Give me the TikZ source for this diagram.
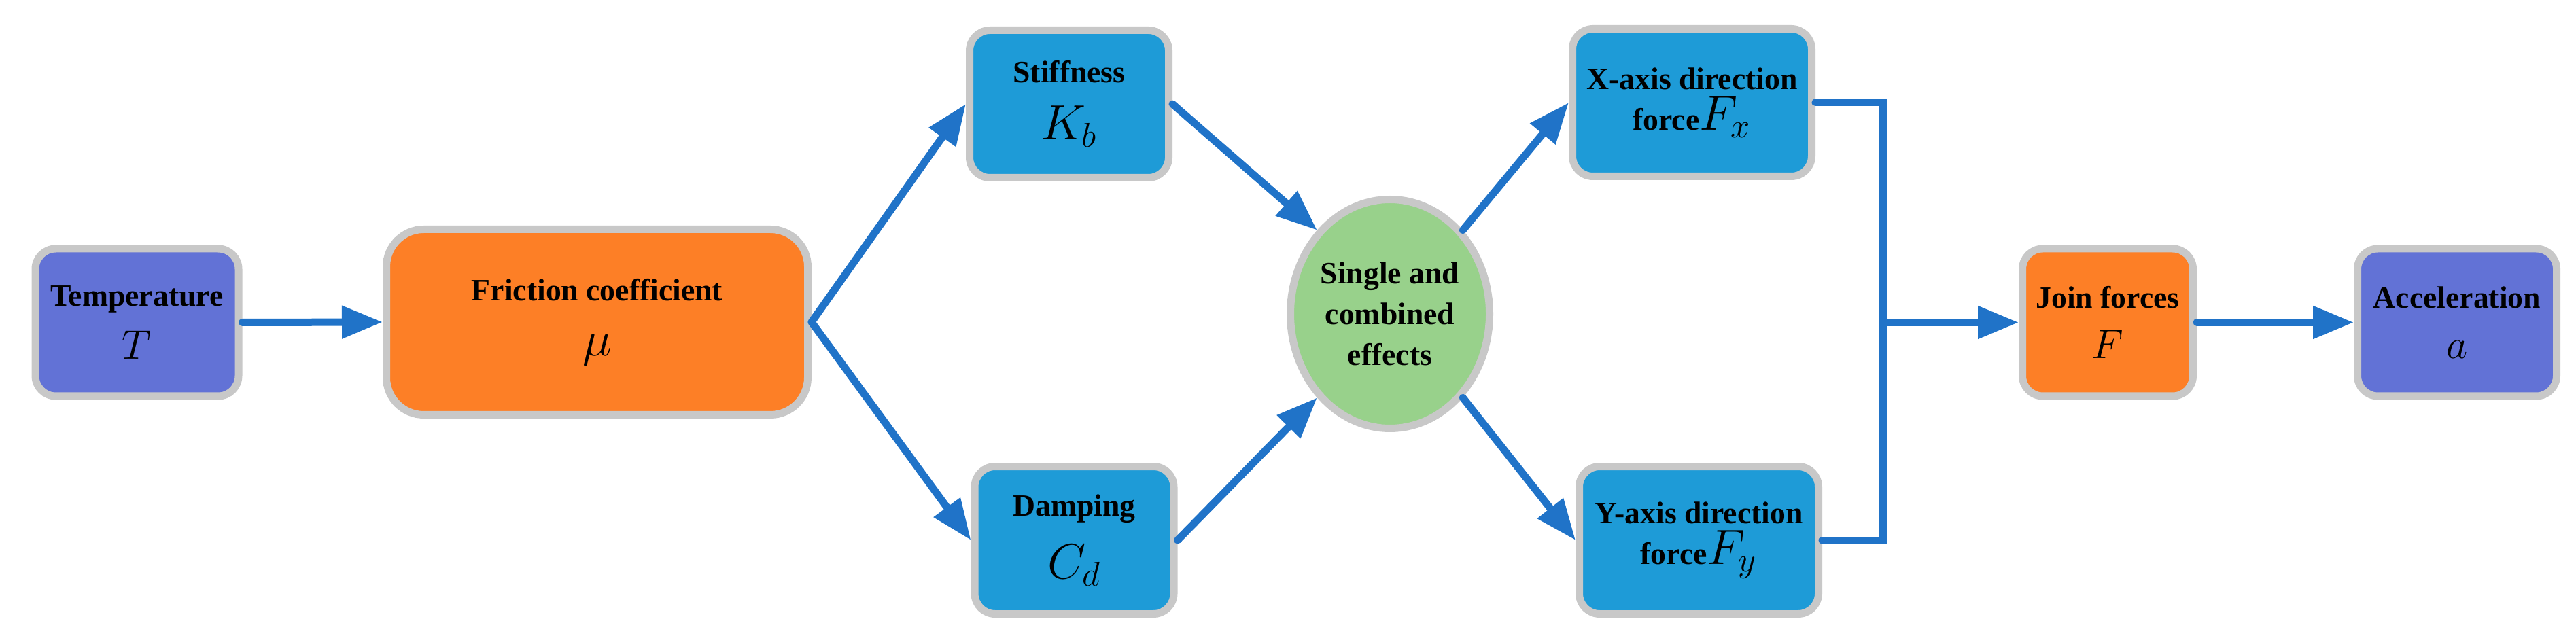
\documentclass[tikz,border=0pt]{standalone}
\usepackage{fontspec}
\setmainfont{Liberation Serif}
\usetikzlibrary{arrows.meta,shapes.geometric}

\definecolor{tempblue}{RGB}{98,114,214}
\definecolor{fricorange}{RGB}{253,127,38}
\definecolor{parmblue}{RGB}{30,155,215}
\definecolor{effgreen}{RGB}{152,209,139}
\definecolor{rimgray}{RGB}{200,200,200}
\definecolor{linkblue}{RGB}{32,115,200}

\newcommand{\bigmath}[2][18]{{\fontsize{#1}{#1}\selectfont$#2$}}

\begin{document}
\begin{tikzpicture}
	[box/.style={rectangle, rounded corners=0.3cm, draw=rimgray, line width=0.11cm,
		align=center, inner sep=1pt, minimum height=2.17cm,
		font=\bfseries\fontsize{13}{17}\selectfont},
	flow/.style={draw=linkblue, line width=0.11cm, line cap=round,
		-{Triangle[length=0.6cm,width=0.46cm]}},
	link/.style={draw=linkblue, line width=0.11cm, line cap=round}]
	\useasboundingbox (0,0) rectangle (37.90,9.35);

	% input and friction
	\node[box, fill=tempblue, minimum width=2.99cm] (temp) at (2.015,4.605)
		{Temperature\\[5pt]\bigmath{T}};
	\node[box, fill=fricorange, rounded corners=0.55cm, minimum width=6.20cm,
		minimum height=2.73cm] (fric) at (8.785,4.61)
		{Friction coefficient\\[6pt]\bigmath[22]{\mu}};

	% stiffness and damping
	\node[box, fill=parmblue, minimum width=2.93cm] (stiff) at (15.73,7.82)
		{Stiffness\\[7pt]\bigmath[21]{K_b}};
	\node[box, fill=parmblue, minimum width=2.93cm] (damp) at (15.805,1.40)
		{Damping\\[8pt]\bigmath[21]{C_d}};

	% effects
	\node[ellipse, draw=rimgray, line width=0.11cm, fill=effgreen,
		minimum width=2.93cm, minimum height=3.37cm, inner sep=0pt, align=center,
		font=\bfseries\fontsize{13}{17}\selectfont] (eff) at (20.45,4.73)
		{Single and\\combined\\effects};

	% forces
	\node[box, fill=parmblue, minimum width=3.52cm] (xforce) at (24.895,7.84)
		{X-axis direction\\force\bigmath[21]{F_x}};
	\node[box, fill=parmblue, minimum width=3.52cm] (yforce) at (24.995,1.40)
		{Y-axis direction\\force\bigmath[21]{F_y}};
	\node[box, fill=fricorange, minimum width=2.51cm] (join) at (31.01,4.605)
		{Join forces\\[4pt]\bigmath{F}};
	\node[box, fill=tempblue, minimum width=2.93cm] (accel) at (36.15,4.605)
		{Acceleration\\[4pt]\bigmath{a}};
	\coordinate (merge) at (27.70,4.605);

	% connectors
	\draw[flow] (temp.east) -- (fric.west);
	\draw[flow] (fric.east) -- (stiff.west);
	\draw[flow] (fric.east) -- (damp.west);
	\draw[flow] (stiff.east) -- (eff.131);
	\draw[flow] (damp.east) -- (eff.229);
	\draw[flow] (eff.49) -- (xforce.west);
	\draw[flow] (eff.-49) -- (yforce.west);
	\draw[link] (xforce.east) -| (merge) |- (yforce.east);
	\draw[flow] (merge) -- (join.west);
	\draw[flow] (join.east) -- (accel.west);
\end{tikzpicture}
\end{document}
